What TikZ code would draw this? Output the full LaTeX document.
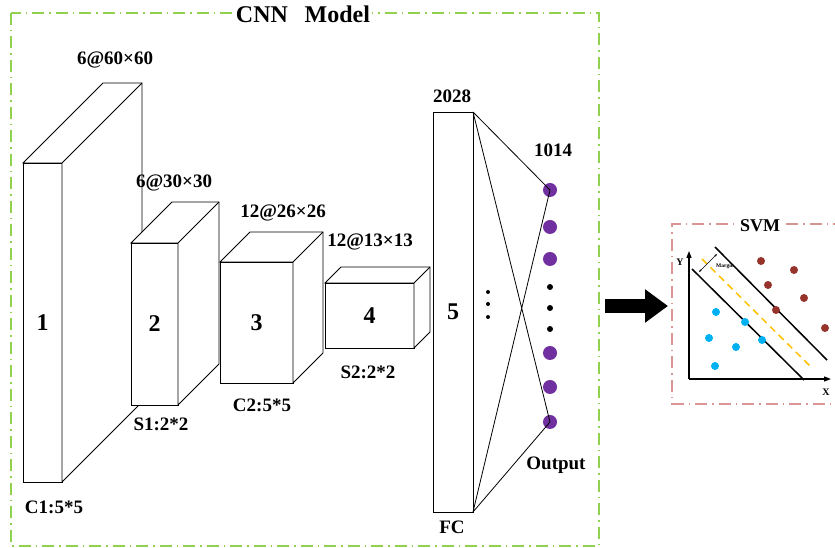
\documentclass[tikz,border=0pt]{standalone}
\usepackage{fontspec}
\setmainfont{Liberation Serif}
\usetikzlibrary{calc,positioning,arrows.meta}
\definecolor{frameGreen}{RGB}{146,208,80}
\definecolor{framePink}{RGB}{217,150,148}
\definecolor{unitPurple}{RGB}{112,48,160}
\definecolor{svmRed}{RGB}{150,52,44}
\definecolor{svmBlue}{RGB}{0,176,240}
\definecolor{svmOrange}{RGB}{255,192,0}

% name, x, y, width, height, depth, text
\newcommand{\layerbox}[7]{%
  \node[face, minimum width=#4pt, minimum height=#5pt] (#1) at (#2,#3) {#7};
  \draw[fill=white] (#1.north west) -- ++(#6,#6) -- ($(#1.north east)+(#6,#6)$)
    -- ($(#1.south east)+(#6,#6)$) -- (#1.south east) -- (#1.north east) -- cycle;
  \draw (#1.north east) -- ++(#6,#6);
}

\begin{document}
\begin{tikzpicture}[x=1pt, y=1pt, line width=0.8pt,
      font=\bfseries\fontsize{19}{22}\selectfont,
      face/.style={draw, fill=white, inner sep=0pt, outer sep=0pt,
        font=\bfseries\fontsize{24}{28}\selectfont},
      unit/.style={circle, fill=unitPurple, minimum size=14pt, inner sep=0pt},
      vdot/.style={circle, fill=black, minimum size=6pt, inner sep=0pt},
      sdot/.style={circle, fill=black, minimum size=4pt, inner sep=0pt},
      greenframe/.style={frameGreen, line width=1.5pt,
        dash pattern=on 12pt off 5pt on 1.5pt off 5pt},
      pinkframe/.style={framePink, line width=1.5pt,
        dash pattern=on 12pt off 5pt on 1.5pt off 5pt},
      bigarrow/.style={line width=14pt, -{Triangle[length=23pt,width=32pt]}},
      pt/.style={circle, minimum size=8pt, inner sep=0pt}]
    \useasboundingbox (0,0) rectangle (835,548);

    % CNN part
    \draw[greenframe] (11,535) rectangle (599,2);
    \node[fill=white, inner sep=2pt, font=\bfseries\fontsize{24}{28}\selectfont]
      (cnnTitle) at (303,534) {CNN\hspace{0.7em}Model};

    \layerbox{L1}{42.5}{225.5}{39}{319}{80}{1}
    \layerbox{L2}{154.5}{224}{47}{162}{41}{2}
    \layerbox{L3}{256.5}{225.5}{73}{121}{30}{3}
    \layerbox{L4}{369.5}{232.5}{89}{65}{16}{4}
    \node[face, minimum width=40pt, minimum height=400pt] (FC) at (453,236) {5};

    \node (szA) at (115,488) {6@60×60};
    \node (szB) at (174,365) {6@30×30};
    \node (szC) at (283,335) {12@26×26};
    \node (szD) at (370,306) {12@13×13};
    \node (kC1) at (54,41) {C1:5*5};
    \node (kS1) at (161,124) {S1:2*2};
    \node (kC2) at (262,143) {C2:5*5};
    \node (kS2) at (368,176) {S2:2*2};
    \node (nFC) at (452,452) {2028};
    \node (lFC) at (452,21) {FC};

    % output layer
    \foreach \i/\y in {1/358,2/321,3/289,4/195,5/161,6/126}
      \node[unit] (o\i) at (550,\y) {};
    \foreach \i/\y in {1/261,2/240,3/219}
      \node[vdot] (d\i) at (550,\y) {};
    \foreach \i/\y in {1/256,2/244,3/231}
      \node[sdot] (f\i) at (488,\y) {};
    \node (nOut) at (553,398) {1014};
    \node (lOut) at (556,83) {Output};

    \draw (FC.north east) -- (o1.center)
          (FC.north east) -- (o6.center)
          (FC.south east) -- (o1.center)
          (FC.south east) -- (o6.center);

    \coordinate (arrowStart) at (605,242);
    \coordinate (arrowEnd) at (668,242);
    \draw[bigarrow] (arrowStart) -- (arrowEnd);

    % SVM part
    \draw[pinkframe] (845,324) -- (672,324) -- (672,144) -- (845,144);
    \node[fill=white, inner sep=2pt, font=\bfseries\fontsize{18}{21}\selectfont]
      (svmTitle) at (760,322) {SVM};

    \coordinate (origin) at (689,169);
    \coordinate (yTip) at (689,297);
    \coordinate (xTip) at (831,169);
    \draw[line width=1.2pt, -{Triangle[length=7pt,width=5pt]}] (origin) -- (yTip);
    \draw[line width=1.2pt, -{Triangle[length=7pt,width=5pt]}] (origin) -- (xTip);
    \node[font=\bfseries\fontsize{10}{12}\selectfont] (yLbl) at (680,286) {Y};
    \node[font=\bfseries\fontsize{10}{12}\selectfont] (xLbl) at (826,156) {X};

    \coordinate (loA) at (692,279);
    \coordinate (loB) at (804,168);
    \coordinate (hiA) at (715,301);
    \coordinate (hiB) at (827,188);
    \coordinate (midA) at (702,289);
    \coordinate (midB) at (812,180);
    \draw[line width=1.5pt] (loA) -- (loB);
    \draw[line width=1.5pt] (hiA) -- (hiB);
    \draw[svmOrange, line width=1.5pt, dash pattern=on 7pt off 5pt] (midA) -- (midB);

    \coordinate (marA) at (699,276);
    \coordinate (marB) at (717,294);
    \draw[line width=0.6pt, {Stealth[length=3pt]}-{Stealth[length=3pt]}] (marA) -- (marB);
    \node[font=\bfseries\fontsize{5.5}{6}\selectfont] (marLbl) at (725,282) {Margin};

    \foreach \i/\x/\y in {1/761/287,2/794/278,3/768/263,4/804/250,5/776/238,6/825/220}
      \node[pt, fill=svmRed] (r\i) at (\x,\y) {};
    \foreach \i/\x/\y in {1/716/236,2/745/226,3/709/210,4/736/201,5/762/208,6/715/182}
      \node[pt, fill=svmBlue] (b\i) at (\x,\y) {};
  \end{tikzpicture}
\end{document}
